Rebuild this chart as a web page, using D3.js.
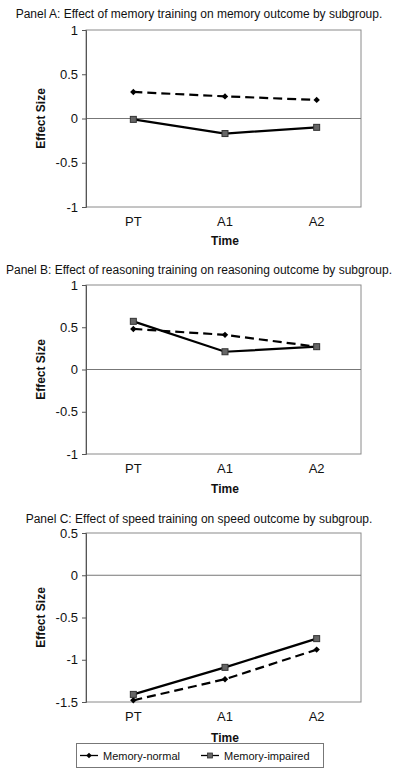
<!DOCTYPE html>
<html><head><meta charset="utf-8">
<script src="https://cdn.jsdelivr.net/npm/d3@7"></script>
<style>body{margin:0;background:#fff}svg{display:block}text{font-family:"Liberation Sans",Arial,sans-serif}</style>
</head><body><svg id="c" width="400" height="778"></svg>
<script>
const categories = ["PT","A1","A2"];
const titles = [
 "Panel A: Effect of memory training on memory outcome by subgroup.",
 "Panel B: Effect of reasoning training on reasoning outcome by subgroup.",
 "Panel C: Effect of speed training on speed outcome by subgroup."
];
const normalA = [0.30, 0.25, 0.21];
const impairedA = [-0.01, -0.17, -0.10];
const normalB = [0.48, 0.41, 0.27];
const impairedB = [0.57, 0.21, 0.27];
const normalC = [-1.48, -1.23, -0.88];
const impairedC = [-1.41, -1.09, -0.75];
const ticksAB = [-1, -0.5, 0, 0.5, 1];
const ticksC = [-1.5, -1, -0.5, 0, 0.5];
const seriesNames = ["Memory-normal", "Memory-impaired"];

const svg = d3.select("#c");
const panels = [
 {title: titles[0], normal: normalA, impaired: impairedA, ticks: ticksAB, dom: [-1,1], titleY: 18, top: 30, bottom: 207, catY: 226, timeY: 245},
 {title: titles[1], normal: normalB, impaired: impairedB, ticks: ticksAB, dom: [-1,1], titleY: 274, top: 285, bottom: 454, catY: 473, timeY: 493},
 {title: titles[2], normal: normalC, impaired: impairedC, ticks: ticksC, dom: [-1.5,0.5], titleY: 523, top: 533, bottom: 702, catY: 721, timeY: 742}
];
const L = 86, R = 361;
panels.forEach(p => {
  const g = svg.append("g");
  g.append("text").attr("x", 199).attr("y", p.titleY).attr("text-anchor","middle")
    .attr("font-size", 12).attr("fill","#111").text(p.title);
  const x = d3.scalePoint().domain(categories).range([L + 1.5, R + 1.5]).padding(0.5);
  const y = d3.scaleLinear().domain(p.dom).range([p.bottom, p.top]);
  g.append("rect").attr("x", L).attr("y", p.top).attr("width", R-L).attr("height", p.bottom-p.top)
    .attr("fill","none").attr("stroke","#8a8a8a").attr("stroke-width",1);
  g.append("line").attr("x1", L).attr("x2", R).attr("y1", y(0)).attr("y2", y(0))
    .attr("stroke","#777").attr("stroke-width",1);
  const ya = g.append("g").attr("transform", `translate(${L},0)`)
    .call(d3.axisLeft(y).tickValues(p.ticks).tickSize(4).tickPadding(4).tickFormat(d => String(d)));
  ya.select(".domain").attr("stroke","#555");
  ya.selectAll(".tick line").attr("stroke","#555");
  ya.selectAll("text").attr("font-size", 13).attr("fill","#111").attr("font-family","Liberation Sans, Arial, sans-serif");
  g.selectAll(".cat").data(categories).join("text").attr("class","cat")
    .attr("x", d => x(d)).attr("y", p.catY).attr("text-anchor","middle")
    .attr("font-size", 13).attr("fill","#111").text(d => d);
  g.append("text").attr("x", x("A1")).attr("y", p.timeY).attr("text-anchor","middle")
    .attr("font-size", 12).attr("font-weight","bold").attr("fill","#111").text("Time");
  const cy = (p.top + p.bottom)/2;
  g.append("text").attr("transform", `translate(45,${cy}) rotate(-90)`).attr("text-anchor","middle")
    .attr("font-size", 12).attr("font-weight","bold").attr("fill","#111").text("Effect Size");
  const line = d3.line().x((d,i) => x(categories[i])).y(d => y(d));
  g.append("path").attr("d", line(p.normal)).attr("fill","none").attr("stroke","#000")
    .attr("stroke-width",2.2).attr("stroke-dasharray","9,5");
  g.append("path").attr("d", line(p.impaired)).attr("fill","none").attr("stroke","#000")
    .attr("stroke-width",2.2);
  g.selectAll(".dm").data(p.normal).join("path").attr("class","dm")
    .attr("transform",(d,i)=>`translate(${x(categories[i])},${y(d)})`)
    .attr("d", d3.symbol(d3.symbolDiamond2, 26)()).attr("fill","#000");
  g.selectAll(".sq").data(p.impaired).join("rect").attr("class","sq")
    .attr("x",(d,i)=>x(categories[i])-3).attr("y", d=>y(d)-3).attr("width",6).attr("height",6)
    .attr("fill","#666").attr("stroke","#333").attr("stroke-width",1);
});
const lg = svg.append("g");
lg.append("rect").attr("x",76.5).attr("y",743.5).attr("width",247).attr("height",24)
  .attr("fill","#fff").attr("stroke","#777");
const items = [{x:80, name:seriesNames[0], t:"d"},{x:201, name:seriesNames[1], t:"s"}];
items.forEach(it => {
  lg.append("line").attr("x1",it.x).attr("x2",it.x+18).attr("y1",755.5).attr("y2",755.5).attr("stroke","#000").attr("stroke-width",1.3);
  if (it.t==="d") lg.append("path").attr("transform",`translate(${it.x+9},755.5)`).attr("d", d3.symbol(d3.symbolDiamond2,20)()).attr("fill","#000");
  else lg.append("rect").attr("x",it.x+6.5).attr("y",753).attr("width",5).attr("height",5).attr("fill","#666").attr("stroke","#333").attr("stroke-width",0.8);
  lg.append("text").attr("x",it.x+23).attr("y",759.5).attr("font-size",11).attr("fill","#111").text(it.name);
});
</script></body></html>
